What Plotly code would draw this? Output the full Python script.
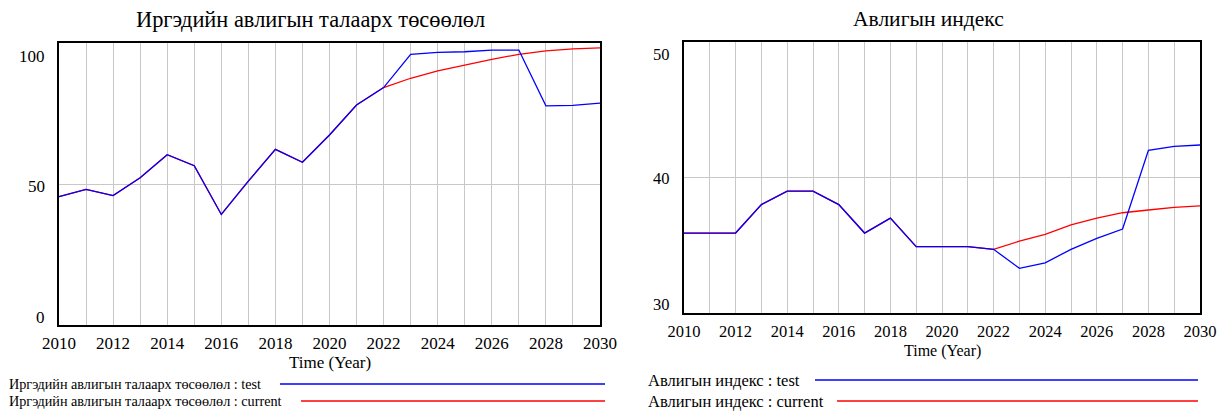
import plotly.graph_objects as go

W, H = 1224, 411
FONT = "Liberation Serif, Times New Roman, serif"
INK = "#000000"
GRID = "#c8c8c8"
BLUE = "#0000ff"
RED = "#ff0000"

# --- data ---
years = list(range(2010, 2031))

perception_test = [45.5, 48.1, 45.9, 52.2, 60.4, 56.5, 39.2, 51.0, 62.3, 57.7, 67.4,
                   78.0, 84.2, 96.0, 96.7, 96.9, 97.5, 97.5, 77.7, 77.9, 78.7]
perception_current = [45.5, 48.1, 45.9, 52.2, 60.4, 56.5, 39.2, 51.0, 62.3, 57.7, 67.4,
                      78.0, 84.2, 87.5, 90.1, 92.2, 94.2, 96.0, 97.2, 97.9, 98.3]

index_test = [35.9, 35.9, 35.9, 38.0, 39.0, 39.0, 38.0, 35.9, 37.0, 34.9, 34.9,
              34.9, 34.7, 33.3, 33.7, 34.7, 35.5, 36.2, 42.0, 42.3, 42.4]
index_current = [35.9, 35.9, 35.9, 38.0, 39.0, 39.0, 38.0, 35.9, 37.0, 34.9, 34.9,
                 34.9, 34.7, 35.3, 35.8, 36.5, 37.0, 37.4, 37.6, 37.8, 37.9]

perception_yticks = [0, 50, 100]
index_yticks = [30, 40, 50]

perception_title = "Иргэдийн авлигын талаарх төсөөлөл"
index_title = "Авлигын индекс"
x_title = "Time (Year)"

# plot boxes in pixels: x0, y0, x1, y1
LEFT_BOX = (59, 43, 600, 325)
RIGHT_BOX = (684, 42, 1200, 313)


def px(x):
    return x / W


def py(y):
    return 1 - y / H


def dom(box):
    return [px(box[0]), px(box[2])], [py(box[3]), py(box[1])]


fig = go.Figure()

panels = [
    ("x", "y", perception_current, perception_test, perception_title),
    ("x2", "y2", index_current, index_test, index_title),
]
for xa, ya, cur, test, name in panels:
    fig.add_trace(go.Scatter(x=years, y=cur, mode="lines", xaxis=xa, yaxis=ya,
                             line=dict(color=RED, width=1.3), name=f"{name} : current",
                             showlegend=False))
    fig.add_trace(go.Scatter(x=years, y=test, mode="lines", xaxis=xa, yaxis=ya,
                             line=dict(color=BLUE, width=1.3), name=f"{name} : test",
                             showlegend=False))


def xaxis_cfg(box, size):
    d, _ = dom(box)
    return dict(
        domain=d, range=[2010, 2030], tickmode="linear", tick0=2010, dtick=2,
        showgrid=True, gridcolor=GRID, gridwidth=1,
        minor=dict(dtick=1, tick0=2010, showgrid=True, gridcolor=GRID, gridwidth=1),
        showline=True, mirror=True, linecolor=INK, linewidth=2,
        ticks="", ticklabelstandoff=2, zeroline=False, automargin=False,
        tickfont=dict(family=FONT, size=size, color=INK),
    )


def yaxis_cfg(box, ticks, anchor):
    _, d = dom(box)
    return dict(
        domain=d, range=[ticks[0], ticks[-1]], tickvals=ticks, showticklabels=False,
        showgrid=True, gridcolor=GRID, gridwidth=1, zeroline=False, automargin=False,
        showline=True, mirror=True, linecolor=INK, linewidth=2, anchor=anchor,
    )


fig.update_layout(
    width=W, height=H,
    margin=dict(l=0, r=0, t=0, b=0, pad=0),
    paper_bgcolor="white", plot_bgcolor="white",
    font=dict(family=FONT, color=INK),
    showlegend=False,
    xaxis=dict(xaxis_cfg(LEFT_BOX, 17), anchor="y"),
    yaxis=yaxis_cfg(LEFT_BOX, perception_yticks, "x"),
    xaxis2=dict(xaxis_cfg(RIGHT_BOX, 16.5), anchor="y2"),
    yaxis2=yaxis_cfg(RIGHT_BOX, index_yticks, "x2"),
)

ann = []
# y tick labels, nudged inside the box like the source tool does
for yref, box, ticks, shifts, size in [
    ("y", LEFT_BOX, perception_yticks, [8, -2, -14], 17),
    ("y2", RIGHT_BOX, index_yticks, [9, -1, -13], 16.5),
]:
    for v, s in zip(ticks, shifts):
        ann.append(dict(xref="paper", yref=yref, x=px(box[0] - 12), y=v, yshift=s,
                        text=str(v), showarrow=False, xanchor="right", yanchor="middle",
                        font=dict(family=FONT, size=size, color=INK)))

# titles
ann.append(dict(xref="paper", yref="paper", x=px(310), y=py(19), text=perception_title,
                showarrow=False, xanchor="center", yanchor="middle",
                font=dict(family=FONT, size=22.4, color=INK)))
ann.append(dict(xref="paper", yref="paper", x=px(928), y=py(19), text=index_title,
                showarrow=False, xanchor="center", yanchor="middle",
                font=dict(family=FONT, size=21.5, color=INK)))

# axis titles
ann.append(dict(xref="paper", yref="paper", x=px(330), y=py(362), text=x_title,
                showarrow=False, xanchor="center", yanchor="middle",
                font=dict(family=FONT, size=17, color=INK)))
ann.append(dict(xref="paper", yref="paper", x=px(942), y=py(351), text=x_title,
                showarrow=False, xanchor="center", yanchor="middle",
                font=dict(family=FONT, size=16, color=INK)))

# legends: text + sample line
legend_rows = [
    (f"{perception_title} : test", BLUE, 7, 384, 280, 605, 14.2),
    (f"{perception_title} : current", RED, 7, 401, 301, 605, 14.2),
    (f"{index_title} : test", BLUE, 646, 380, 815, 1198, 16.5),
    (f"{index_title} : current", RED, 646, 401, 837, 1198, 16.5),
]
shapes = []
for text, color, tx, ty, lx0, lx1, size in legend_rows:
    ann.append(dict(xref="paper", yref="paper", x=px(tx), y=py(ty), text=text,
                    showarrow=False, xanchor="left", yanchor="middle",
                    font=dict(family=FONT, size=size, color=INK)))
    shapes.append(dict(type="line", xref="paper", yref="paper",
                       x0=px(lx0), x1=px(lx1), y0=py(ty), y1=py(ty),
                       line=dict(color=color, width=1.3)))

fig.update_layout(annotations=ann, shapes=shapes)

# figure fills the whole window, so drop the page's default body margin
fig.write_html("out.html", config={"displayModeBar": False},
               post_script="document.body.style.margin='0';document.body.style.overflow='hidden';")
